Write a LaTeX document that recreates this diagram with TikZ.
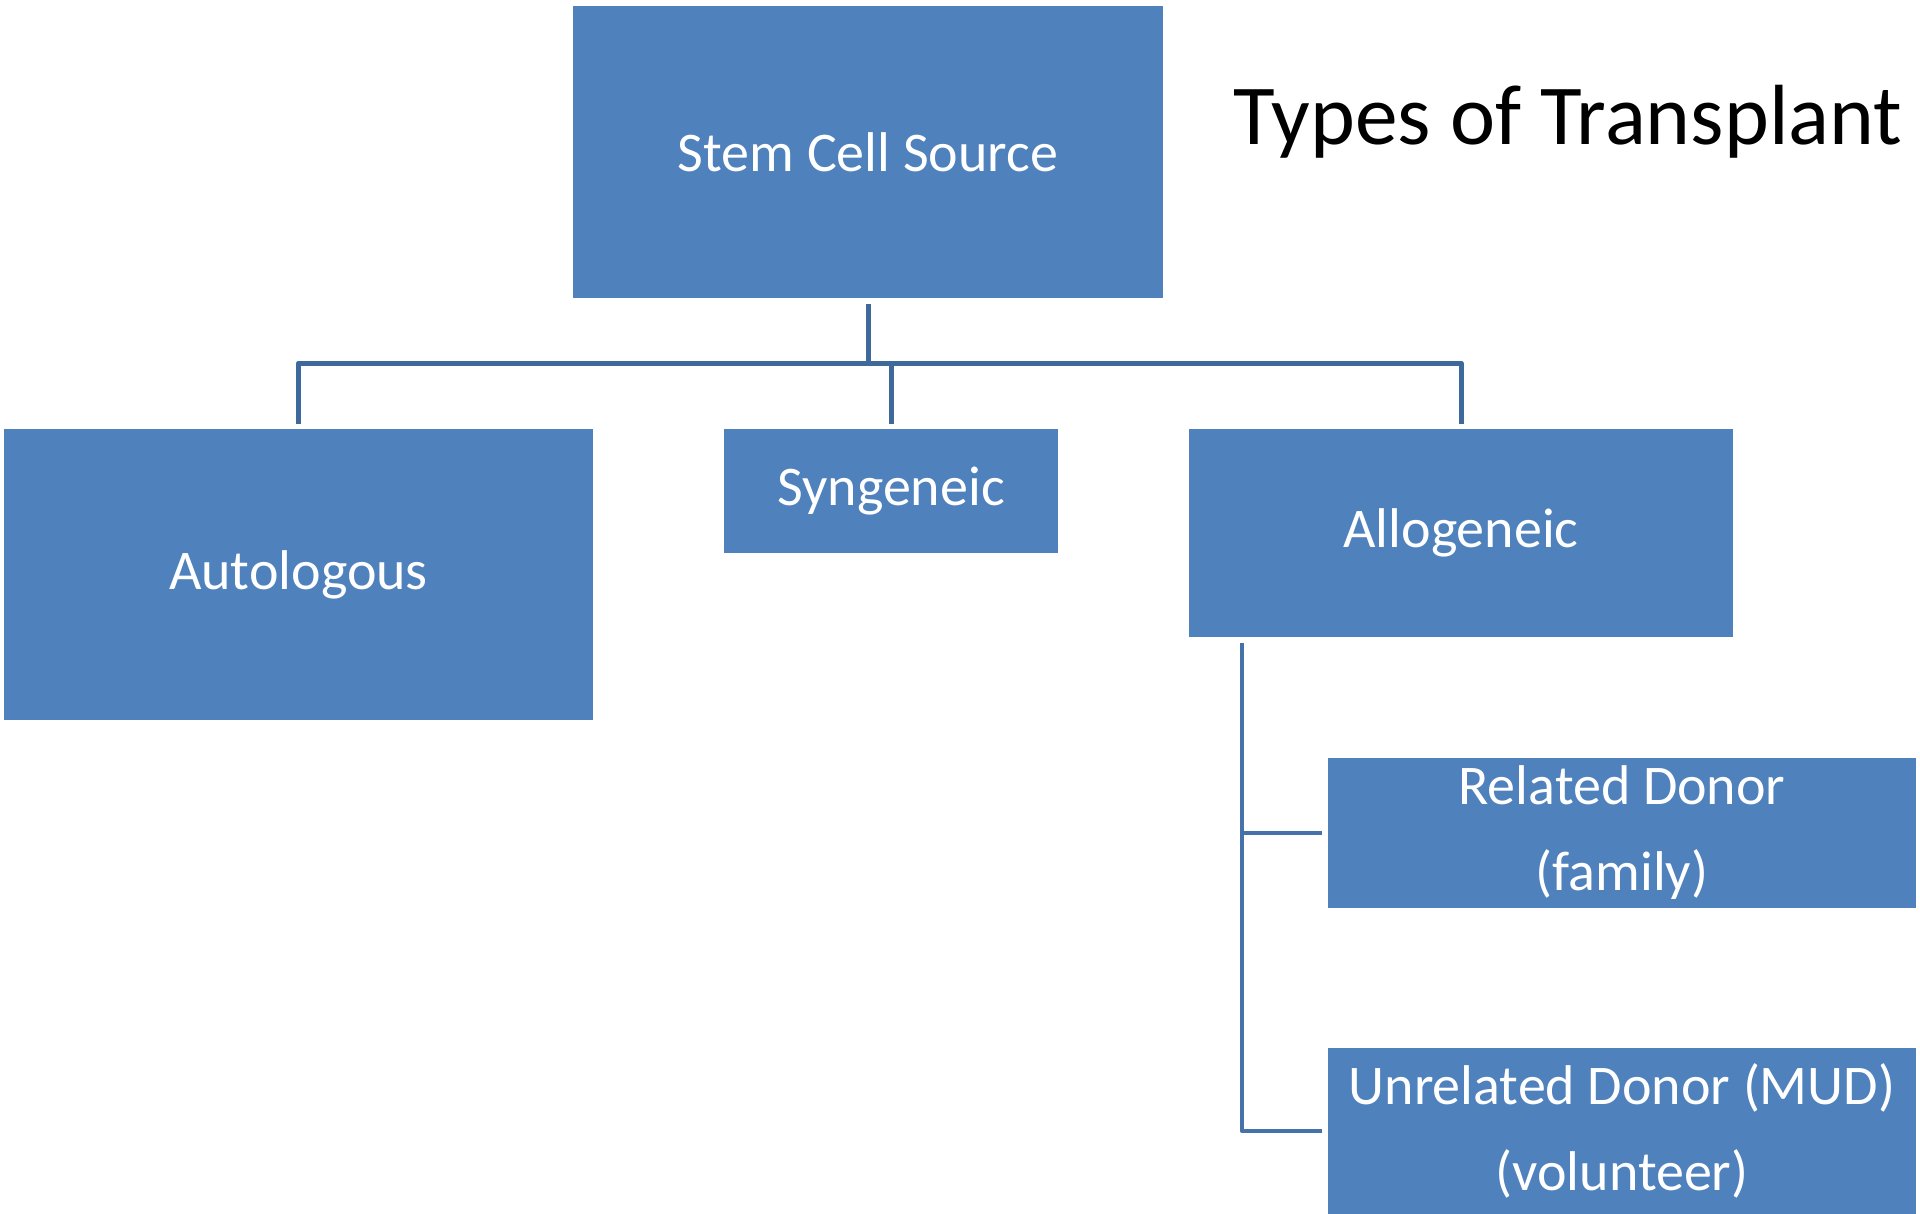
\documentclass[tikz,border=0pt]{standalone}
\usepackage{fontspec}
\setmainfont{Carlito}
\usetikzlibrary{calc}
\definecolor{boxblue}{HTML}{4F81BD}
\definecolor{treeline}{HTML}{3E6A9B}
\definecolor{branchline}{HTML}{4672AA}
\begin{document}
\begin{tikzpicture}[x=0.5pt,y=-0.5pt,
  label font/.style={font=\fontsize{28}{43}\selectfont},
  box/.style={fill=boxblue, draw=none, inner sep=0pt, outer sep=0pt,
    text=white, align=center, label font},
  conn/.style={draw=treeline, line width=2.5pt, line join=round},
  branch/.style={draw=branchline, line width=2.2pt, line join=round}]
\useasboundingbox (0,0) rectangle (1920,1214);

% boxes
\node[box, minimum width=295pt, minimum height=146pt] (stem) at (868,152) {Stem Cell Source};
\node[box, minimum width=294.5pt, minimum height=145.5pt] (auto) at (298.5,574.5) {Autologous};
\node[box, minimum width=167pt, minimum height=62pt] (syn) at (891,491) {Syngeneic};
\node[box, minimum width=272pt, minimum height=104pt] (allo) at (1461,533) {Allogeneic};
\node[box, minimum width=294pt, minimum height=75pt] (rel) at (1622,833) {Related Donor\\(family)};
\node[box, minimum width=294pt, minimum height=85pt, anchor=north] (unrel) at (1622,1048) {};
\node[label font, text=white, align=center] (unreltext) at (1622,1131) {Unrelated Donor (MUD)\\(volunteer)};

% title
\node[font=\fontsize{42.7}{50}\selectfont, anchor=base] (title) at (1568,145) {Types of Transplant};

% top-level tree
\coordinate (bus) at (868,363);
\draw[conn] ($(stem.south)+(0,6)$) -- (stem.south |- bus);
\draw[conn] ($(auto.north)+(0,-5)$) -- (auto.north |- bus) -- (allo.north |- bus) -- ($(allo.north)+(0,-5)$);
\draw[conn] (syn.north |- bus) -- ($(syn.north)+(0,-5)$);

% allogeneic branches
\coordinate (trunk) at ($(allo.south west)+(53,6)$);
\draw[branch] (trunk) |- ($(unrel.west |- unreltext)+(-6,0)$);
\draw[branch] (trunk |- rel.west) -- ($(rel.west)+(-6,0)$);
\end{tikzpicture}
\end{document}
